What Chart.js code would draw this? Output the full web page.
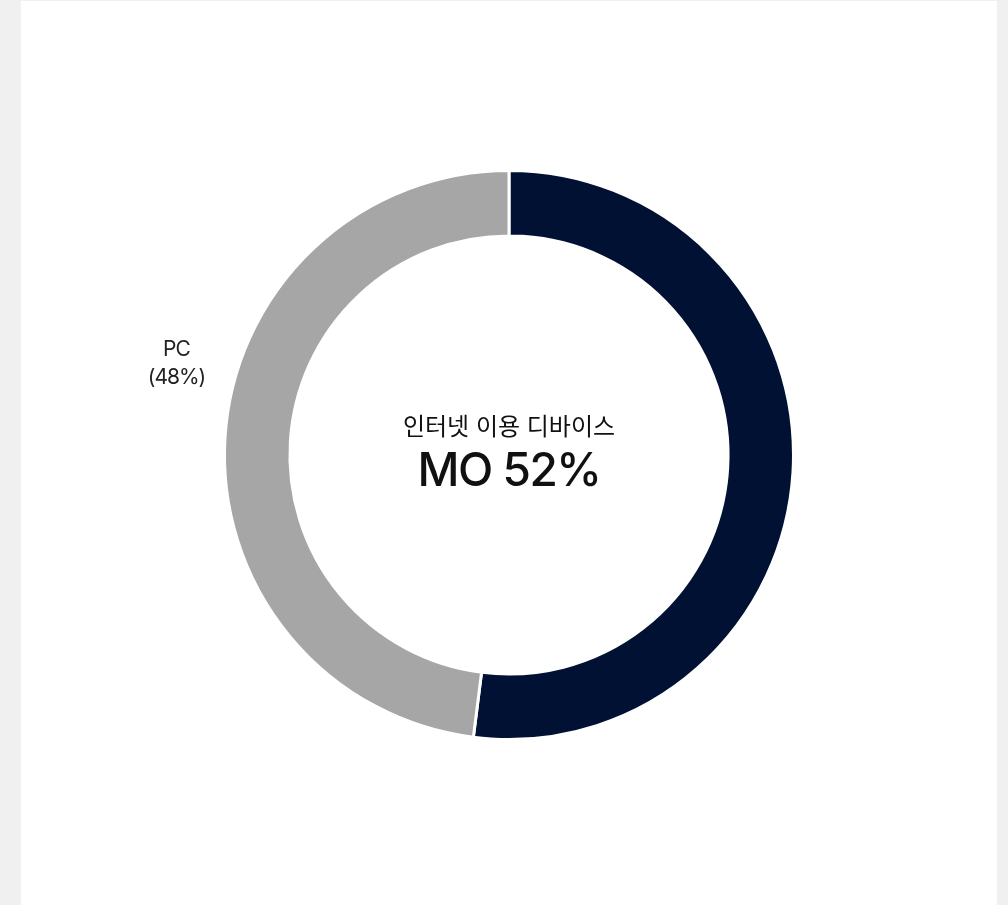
<!DOCTYPE html>
<html lang="ko">
<head>
<meta charset="utf-8">
<script src="https://cdn.jsdelivr.net/npm/chart.js@4"></script>
<style>
  html, body { margin: 0; padding: 0; }
  body { background: #f0f0f0; width: 1008px; height: 905px; overflow: hidden; position: relative; }
  .panel { position: absolute; left: 21px; top: 1px; width: 976px; height: 904px; background: #fff; }
  canvas { display: block; }
</style>
</head>
<body>
<div class="panel"><canvas id="deviceChart" width="976" height="904"></canvas></div>
<script>
// ── DATA ──
const deviceLabels = ['MO', 'PC'];
const deviceShares = [52, 48];
const deviceColors = ['#001133', '#a6a6a6'];
const centerTitle = '인터넷 이용 디바이스';

const FONT = 'Inter, "Noto Sans CJK KR", sans-serif';

// center text + outside label for PC
const centerTextPlugin = {
  id: 'centerText',
  afterDraw(chart) {
    const { ctx } = chart;
    const arc = chart.getDatasetMeta(0).data[0];
    const cx = arc.x, cy = arc.y;
    ctx.save();
    ctx.textAlign = 'center';
    ctx.textBaseline = 'middle';
    ctx.fillStyle = '#111';
    ctx.font = '400 24px ' + FONT;
    ctx.letterSpacing = '0px';
    ctx.fillText(centerTitle, cx, cy - 27);
    ctx.font = '500 46px ' + FONT;
    ctx.letterSpacing = '-1.5px';
    ctx.fillText(deviceLabels[0] + ' ' + deviceShares[0] + '%', cx, cy + 17);

    // PC label, left of the ring
    const pc = chart.getDatasetMeta(0).data[1];
    const lx = cx - pc.outerRadius - 48;
    const ly = cy - 90;
    ctx.fillStyle = '#222';
    ctx.font = '400 21px ' + FONT;
    ctx.letterSpacing = '-1px';
    ctx.fillText(deviceLabels[1], lx, ly - 15);
    ctx.fillText('(' + deviceShares[1] + '%)', lx, ly + 13);
    ctx.restore();
  }
};

new Chart(document.getElementById('deviceChart'), {
  type: 'doughnut',
  data: {
    labels: deviceLabels,
    datasets: [{
      data: deviceShares,
      backgroundColor: deviceColors,
      borderColor: '#ffffff',
      borderWidth: 3
    }]
  },
  options: {
    responsive: false,
    animation: false,
    cutout: '77%',
    layout: { padding: { top: 168, bottom: 164, left: 0, right: 0 } },
    plugins: {
      legend: { display: false },
      tooltip: { enabled: false }
    }
  },
  plugins: [centerTextPlugin]
});
</script>
</body>
</html>
